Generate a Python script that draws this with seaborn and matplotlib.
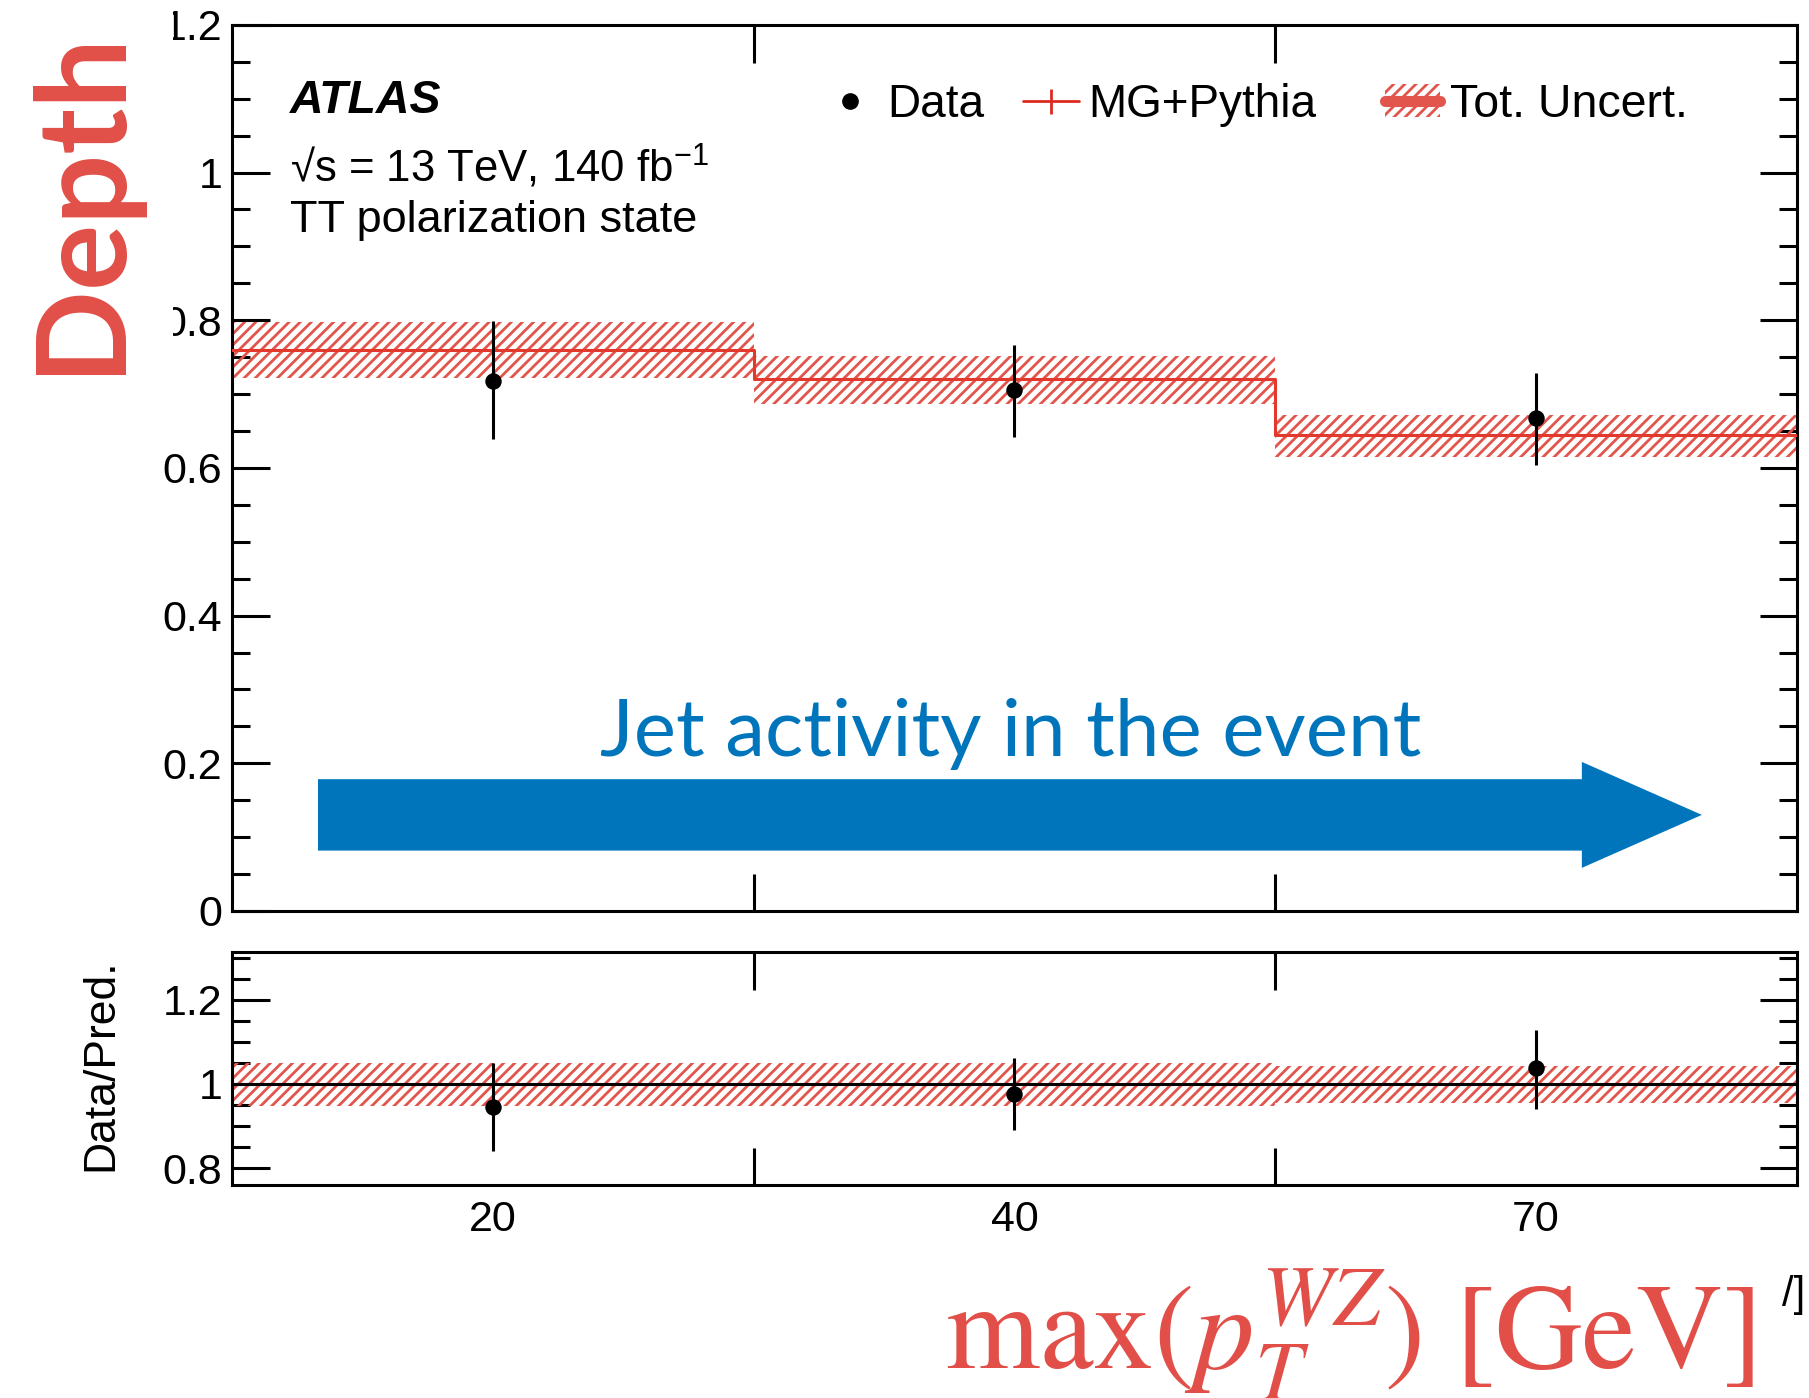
import numpy as np
import pandas as pd
import matplotlib
matplotlib.use("Agg")
import matplotlib.pyplot as plt
import seaborn as sns
from matplotlib.patches import Patch, Polygon, Rectangle
from matplotlib.lines import Line2D
from matplotlib.ticker import MultipleLocator

# ---------------- data ----------------
bin_labels = ["20", "40", "70"]
pred = [0.760, 0.720, 0.644]
pred_up = [0.797, 0.751, 0.672]
pred_dn = [0.722, 0.686, 0.615]
data = [0.718, 0.705, 0.667]
data_up = [0.799, 0.766, 0.729]
data_dn = [0.639, 0.642, 0.604]
ratio = [0.945, 0.977, 1.038]
ratio_up = [1.050, 1.062, 1.129]
ratio_dn = [0.840, 0.890, 0.940]
ratio_band_up = [1.050, 1.050, 1.043]
ratio_band_dn = [0.948, 0.948, 0.955]
main_yticks = [0, 0.2, 0.4, 0.6, 0.8, 1.0, 1.2]
main_ytick_labels = ["0", "0.2", "0.4", "0.6", "0.8", "1", "1.2"]
ratio_yticks = [0.8, 1.0, 1.2]
ratio_ytick_labels = ["0.8", "1", "1.2"]

# ---------------- style ----------------
sns.set_style("ticks")
plt.rcParams["font.family"] = ["Liberation Sans", "DejaVu Sans"]
plt.rcParams["mathtext.fontset"] = "custom"
plt.rcParams["mathtext.rm"] = "Liberation Sans"
plt.rcParams["mathtext.it"] = "Liberation Sans:italic"
plt.rcParams["hatch.linewidth"] = 2.0
for k in ["text.color", "axes.edgecolor", "axes.labelcolor", "xtick.color", "ytick.color"]:
    plt.rcParams[k] = "black"

RED_LINE = "#e3392d"
RED_HATCH = "#e2554d"
RED_TXT = "#e14f48"
BLUE = "#0075bb"
LW = 2.2
MAJ = 27
MIN = 13
TICKFS = 31

edges = np.arange(len(bin_labels) + 1)
centers = edges[:-1] + 0.5

fig = plt.figure(figsize=(18.09, 13.98), dpi=100)
ax = fig.add_axes([0.1282, 0.3484, 0.8651, 0.6338])
ax2 = fig.add_axes([0.1282, 0.1524, 0.8651, 0.1667])

# ---------------- main panel ----------------
df_pred = pd.DataFrame({"x": edges, "y": pred + [pred[-1]]})
ax.fill_between(edges, pred_up + [pred_up[-1]], pred_dn + [pred_dn[-1]], step="post",
                facecolor="none", edgecolor=RED_HATCH, hatch="///", linewidth=0, zorder=2)
sns.lineplot(data=df_pred, x="x", y="y", drawstyle="steps-post", color=RED_LINE,
             linewidth=2.2, ax=ax, zorder=3)
d = np.array(data)
ax.errorbar(centers, d, yerr=[d - np.array(data_dn), np.array(data_up) - d],
            fmt="none", ecolor="black", elinewidth=2.2, capsize=0, zorder=4)
sns.scatterplot(x=centers, y=data, color="black", s=140, linewidth=0, ax=ax, zorder=5)

ax.set_xlim(0, 3)
ax.set_ylim(0, 1.2)
ax.set_xlabel("")
ax.set_ylabel("")
ax.set_xticks(edges[1:-1])
ax.set_xticklabels([])
ax.tick_params(axis="x", which="major", direction="in", length=MAJ, width=LW,
               top=True, bottom=True, labelbottom=False)
ax.set_yticks(main_yticks, main_ytick_labels)
ax.yaxis.set_minor_locator(MultipleLocator(0.05))
ax.tick_params(axis="y", which="major", direction="in", length=MAJ, width=LW,
               left=True, right=True, labelsize=TICKFS, pad=7)
ax.tick_params(axis="y", which="minor", direction="in", length=MIN, width=LW,
               left=True, right=True)
for s in ax.spines.values():
    s.set_linewidth(LW)
    s.set_visible(True)

# annotations
ax.text(0.037, 0.9007, "ATLAS", transform=ax.transAxes, fontsize=33.5,
        fontweight="bold", fontstyle="italic", va="baseline", ha="left")
ax.text(0.037, 0.8228, "√s = 13 TeV, 140 fb$^{\\mathregular{-1}}$", transform=ax.transAxes,
        fontsize=31.5, va="baseline", ha="left")
ax.text(0.037, 0.7664, "TT polarization state", transform=ax.transAxes,
        fontsize=32.5, va="baseline", ha="left")

h_data = Line2D([], [], ls="none", marker="o", color="black", markersize=11)
h_mg = Line2D([], [], color="#dd2a20", lw=2, marker="|", markersize=18, mew=2)
h_unc = (Patch(facecolor="none", edgecolor=RED_HATCH, hatch="///", linewidth=0),
         Line2D([], [], color=RED_HATCH, lw=8))
leg1 = ax.legend([h_data, h_mg], ["Data", "MG+Pythia"], loc="center left",
                 bbox_to_anchor=(0.377, 0.9097), ncol=2, frameon=False, fontsize=33,
                 handlelength=1.22, handletextpad=0.2, columnspacing=0.85,
                 borderpad=0, borderaxespad=0)
ax.add_artist(leg1)
ax.legend([h_unc], ["Tot. Uncert."], loc="center left",
          bbox_to_anchor=(0.7365, 0.9097), frameon=False, fontsize=33.5,
          handlelength=1.2, handletextpad=0.2, borderpad=0, borderaxespad=0)

# arrow
arrow_pts = [(0.055, 0.1084 + 0.0403), (0.8626, 0.1084 + 0.0403), (0.8626, 0.1084 + 0.0598),
             (0.9393, 0.1084), (0.8626, 0.1084 - 0.0598), (0.8626, 0.1084 - 0.0403),
             (0.055, 0.1084 - 0.0403)]
ax.add_patch(Polygon(arrow_pts, closed=True, transform=ax.transAxes, facecolor=BLUE,
                     edgecolor="none", zorder=6))
ax.text(0.4978, 0.175, "Jet activity in the event", transform=ax.transAxes,
        fontsize=57.5, color=BLUE, family="Lato", ha="center", va="baseline", zorder=6)

# ---------------- ratio panel ----------------
ax2.fill_between(edges, ratio_band_up + [ratio_band_up[-1]], ratio_band_dn + [ratio_band_dn[-1]],
                 step="post", facecolor="none", edgecolor=RED_HATCH, hatch="///",
                 linewidth=0, zorder=2)
ax2.axhline(1.0, color="black", lw=LW, zorder=3)
r = np.array(ratio)
ax2.errorbar(centers, r, yerr=[r - np.array(ratio_dn), np.array(ratio_up) - r],
             fmt="none", ecolor="black", elinewidth=2.2, capsize=0, zorder=4)
sns.scatterplot(x=centers, y=ratio, color="black", s=140, linewidth=0, ax=ax2, zorder=5)
ax2.set_xlim(0, 3)
ax2.set_ylim(0.76, 1.314)
ax2.set_xlabel("")
ax2.set_ylabel("")
ax2.set_xticks(centers, bin_labels)
ax2.tick_params(axis="x", which="major", length=0, pad=11, labelsize=TICKFS)
ax2.set_xticks(edges[1:-1], minor=True)
ax2.tick_params(axis="x", which="minor", direction="in", length=MAJ, width=LW,
                top=True, bottom=True)
ax2.set_yticks(ratio_yticks, ratio_ytick_labels)
ax2.yaxis.set_minor_locator(MultipleLocator(0.05))
ax2.tick_params(axis="y", which="major", direction="in", length=MAJ, width=LW,
                left=True, right=True, labelsize=TICKFS, pad=7)
ax2.tick_params(axis="y", which="minor", direction="in", length=MIN, width=LW,
                left=True, right=True)
for s in ax2.spines.values():
    s.set_linewidth(LW)
    s.set_visible(True)

fig.text(0.0558, 0.2382, "Data/Pred.", rotation=90, fontsize=32, ha="center", va="center")

# cover + big labels
fig.add_artist(Rectangle((0, 0.721), 0.0956, 0.279, transform=fig.transFigure,
                         facecolor="white", edgecolor="none", zorder=5))
fig.text(0.0445, 0.856, "Depth", rotation=90, fontsize=89, color=RED_TXT, family="Lato",
         fontweight="bold", ha="center", va="center", zorder=6)
fig.text(0.9696, 0.0215, r"$\mathrm{max}(p_T^{WZ})\ [\mathrm{GeV}]$", fontsize=87,
         color=RED_TXT, math_fontfamily="stix", ha="right", va="baseline", zorder=6)
fig.text(0.998, 0.066, "/]", fontsize=30, ha="right", va="baseline", zorder=6)

fig.savefig("out.png", dpi=100)
